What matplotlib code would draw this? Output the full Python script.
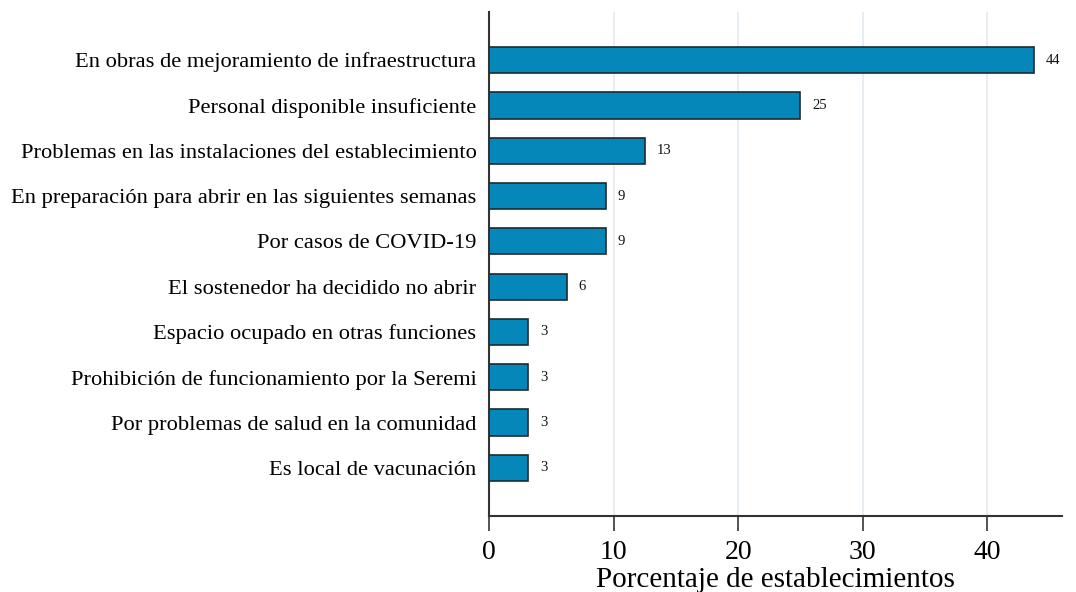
import matplotlib
matplotlib.use("Agg")
import matplotlib.pyplot as plt
import numpy as np

categories = [
    "En obras de mejoramiento de infraestructura",
    "Personal disponible insuficiente",
    "Problemas en las instalaciones del establecimiento",
    "En preparación para abrir en las siguientes semanas",
    "Por casos de COVID-19",
    "El sostenedor ha decidido no abrir",
    "Espacio ocupado en otras funciones",
    "Prohibición de funcionamiento por la Seremi",
    "Por problemas de salud en la comunidad",
    "Es local de vacunación",
]
values = [43.75, 25.0, 12.5, 9.375, 9.375, 6.25, 3.125, 3.125, 3.125, 3.125]
xticks = [0, 10, 20, 30, 40]
xlabel = "Porcentaje de establecimientos"

plt.rcParams['font.family'] = ['Liberation Serif', 'DejaVu Serif']

fig = plt.figure(figsize=(10.76, 5.92), dpi=100)
ax = fig.add_axes([489/1076, 1 - 516/592, (1062-489)/1076, (516-12)/592])

y = np.arange(len(categories))
ax.barh(y, values, height=0.58, color="#0587ba", edgecolor="#1c2a30", linewidth=1.2, zorder=3)
for yi, v in zip(y, values):
    ax.text(v + 0.95, yi, f"{int(np.floor(v + 0.5))}", va="center", ha="left", fontsize=10.5, color="#111111")

ax.set_ylim(len(categories) - 1 + 1.06, -1.06)
ax.set_xlim(0, 46)
ax.set_yticks(y)
ax.set_yticklabels(categories, fontsize=16.2)
ax.tick_params(axis='y', length=0, pad=9)
ax.set_xticks(xticks)
ax.set_xticklabels([str(t) for t in xticks], fontsize=20)
ax.tick_params(axis='x', length=11, width=1.3, color="#444444", pad=6)
ax.set_xlabel(xlabel, fontsize=21, labelpad=2)

for t in xticks[1:]:
    ax.axvline(t, color="#e4edf2", linewidth=1.3, zorder=0)

for s in ['top', 'right']:
    ax.spines[s].set_visible(False)
for s in ['left', 'bottom']:
    ax.spines[s].set_color("#333333")
    ax.spines[s].set_linewidth(1.5)

fig.savefig("out.png", dpi=100, facecolor="white")
